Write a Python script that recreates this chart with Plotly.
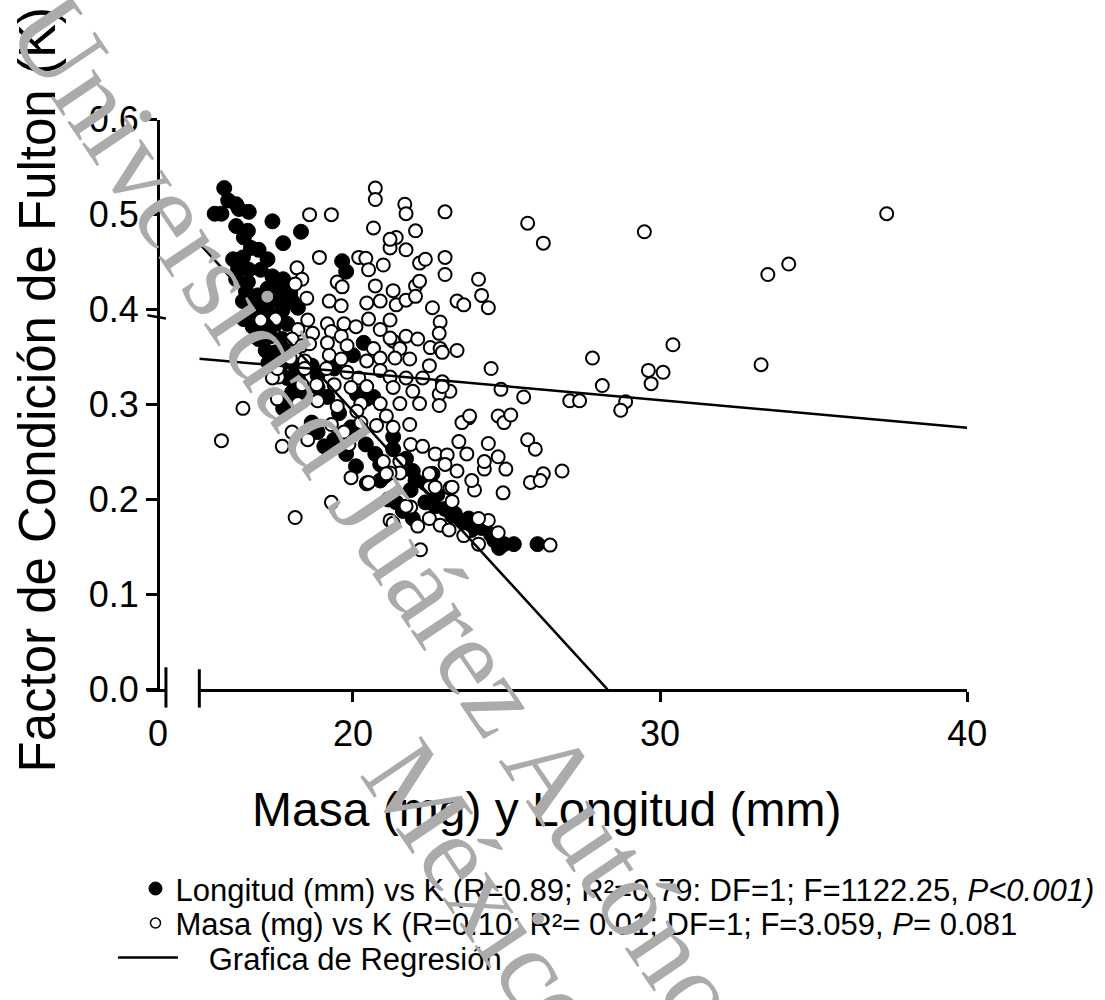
import plotly.graph_objects as go

W, H = 1105, 1000

# ---------------- data ----------------
# Longitud (mm) vs K  -- filled circles
long_x = [15.81,15.94,16.20,16.29,15.50,15.72,16.61,16.20,16.58,16.45,
          17.38,17.73,18.31,16.68,16.93,16.10,16.42,17.22,16.26,16.61,
          17.00,17.38,16.20,16.58,17.41,17.73,16.52,16.90,17.22,17.64,
          17.96,16.42,16.77,17.16,17.57,18.02,18.21,16.45,16.84,17.22,
          17.70,16.74,17.09,17.48,17.86,16.93,17.32,17.70,17.16,17.48,
          17.80,17.25,17.70,18.12,17.86,18.21,18.66,18.85,18.12,18.43,
          18.85,19.17,17.80,19.65,19.78,20.35,20.00,20.67,20.26,19.39,
          17.73,18.02,18.66,18.85,19.07,20.42,20.73,20.89,21.05,21.31,
          21.73,21.95,22.36,22.59,21.41,21.63,21.95,22.36,22.68,23.00,
          23.23,23.55,23.87,24.19,24.60,24.92,25.24,26.01,20.45,20.89,
          20.13,20.45,21.31,24.76,24.50,24.09,23.77,23.32,22.04,19.55,
          19.94,19.39,19.78,20.10,21.15,21.88,22.75]
long_y = [0.528,0.515,0.511,0.506,0.501,0.501,0.503,0.488,0.483,0.476,
          0.493,0.470,0.482,0.465,0.463,0.453,0.455,0.453,0.442,0.442,
          0.442,0.435,0.432,0.429,0.432,0.432,0.419,0.415,0.422,0.422,
          0.417,0.409,0.405,0.409,0.410,0.409,0.402,0.390,0.395,0.399,
          0.399,0.382,0.380,0.385,0.385,0.369,0.372,0.369,0.357,0.355,
          0.355,0.344,0.343,0.341,0.328,0.328,0.341,0.331,0.314,0.308,
          0.318,0.308,0.298,0.451,0.440,0.365,0.352,0.308,0.311,0.338,
          0.296,0.313,0.281,0.271,0.256,0.258,0.248,0.237,0.225,0.253,
          0.243,0.230,0.217,0.227,0.197,0.188,0.180,0.197,0.193,0.190,
          0.183,0.177,0.168,0.170,0.157,0.153,0.153,0.153,0.217,0.220,
          0.311,0.306,0.266,0.149,0.163,0.173,0.180,0.185,0.220,0.291,
          0.276,0.263,0.248,0.235,0.200,0.210,0.205]

# Masa (mg) vs K -- open circles
masa_x = [20.73,20.73,21.69,21.73,23.00,18.59,19.30,20.67,22.04,21.41,
          21.21,21.73,18.91,20.19,20.42,20.99,22.17,22.36,23.00,23.00,
          24.09,24.19,24.41,18.18,18.34,18.12,19.49,19.65,20.51,20.73,
          21.31,22.04,22.17,18.50,19.23,19.62,20.45,20.89,21.41,21.73,
          22.04,22.59,23.39,23.61,18.53,19.17,19.71,20.10,20.51,21.21,
          22.84,18.21,18.69,19.30,19.62,20.89,21.73,22.81,18.02,18.34,
          18.59,19.17,19.81,20.67,21.31,21.53,22.11,22.52,22.84,23.39,
          17.96,18.43,19.23,19.62,20.45,20.89,21.37,21.85,22.49,22.91,
          17.57,18.43,19.14,19.81,20.19,20.89,21.21,21.73,22.27,22.91,
          23.16,17.38,18.34,18.82,19.39,19.94,20.45,21.31,21.95,22.81,
          16.42,17.54,18.21,18.85,19.49,20.26,20.89,21.53,22.17,24.50,
          17.00,17.48,17.54,
          15.72,17.70,19.30,18.12,19.94,20.51,18.02,18.53,20.13,21.09,
          19.30,19.71,20.26,20.77,21.31,21.85,19.87,21.88,22.27,22.68,
          23.07,23.45,23.77,23.55,23.71,24.41,24.28,24.73,24.98,25.69,
          25.94,25.78,24.89,23.96,23.87,23.39,23.00,21.53,21.53,21.21,
          22.49,22.49,22.68,23.16,21.88,21.21,21.31,22.11,22.49,22.84,
          23.13,23.61,24.09,24.73,24.41,24.09,22.20,25.56,24.82,
          25.69,26.20,29.49,21.21,21.21,27.80,28.12,29.62,29.71,30.10,
          30.42,27.06,27.38,28.88,28.72,23.80,24.73,24.92,25.14,26.81,
          26.20,26.10,24.28,23.23,23.23,26.42,21.73,20.99,21.09,22.81,
          22.91,37.38,33.51,34.19,33.29]
masa_y = [0.528,0.516,0.511,0.501,0.503,0.500,0.500,0.486,0.483,0.476,
          0.465,0.463,0.455,0.455,0.454,0.447,0.449,0.453,0.455,0.437,
          0.432,0.415,0.402,0.444,0.432,0.427,0.429,0.424,0.442,0.425,
          0.420,0.425,0.430,0.412,0.409,0.404,0.407,0.409,0.405,0.410,
          0.414,0.402,0.409,0.405,0.389,0.385,0.385,0.382,0.390,0.389,
          0.387,0.379,0.375,0.377,0.372,0.379,0.372,0.375,0.369,0.362,
          0.364,0.365,0.362,0.359,0.367,0.359,0.369,0.360,0.359,0.357,
          0.349,0.346,0.352,0.348,0.346,0.349,0.349,0.348,0.341,0.355,
          0.329,0.338,0.338,0.334,0.328,0.336,0.329,0.328,0.328,0.324,
          0.314,0.328,0.321,0.321,0.321,0.318,0.319,0.318,0.314,0.311,
          0.296,0.306,0.301,0.304,0.298,0.301,0.301,0.301,0.301,0.338,
          0.389,0.390,0.338,
          0.262,0.256,0.197,0.181,0.223,0.218,0.271,0.263,0.293,0.288,
          0.279,0.271,0.281,0.278,0.276,0.279,0.258,0.258,0.256,0.248,
          0.247,0.261,0.286,0.281,0.248,0.259,0.232,0.245,0.232,0.263,
          0.253,0.218,0.207,0.210,0.220,0.230,0.237,0.240,0.228,0.228,
          0.227,0.213,0.213,0.212,0.192,0.178,0.175,0.172,0.180,0.173,
          0.168,0.162,0.153,0.165,0.178,0.180,0.147,0.308,0.316,
          0.491,0.470,0.482,0.474,0.370,0.349,0.320,0.336,0.322,0.334,
          0.363,0.304,0.304,0.303,0.294,0.288,0.288,0.281,0.289,0.230,
          0.227,0.220,0.240,0.213,0.198,0.152,0.193,0.240,0.227,0.299,
          0.319,0.501,0.437,0.448,0.342]

# regression fits: K = intercept + slope * x
long_fit = {"intercept": 1.000, "slope": -0.03535, "x_start": 15.0}
masa_fit = {"intercept": 0.392, "slope": -0.00291, "x_start": 15.0, "x_end": 40.0}
masa_fit_left = [-0.7, 0.5]   # short piece of the Masa line on the "0" stub of the broken axis

x_ticks_main = [20, 30, 40]
y_ticks = [0.0, 0.1, 0.2, 0.3, 0.4, 0.5, 0.6]

leg_long = "Longitud (mm) vs K (R=0.89; R²=0.79: DF=1; F=1122.25, <i>P&lt;0.001)</i>"
leg_masa = "Masa (mg) vs K (R=0.10; R²= 0.01; DF=1; F=3.059, <i>P</i>= 0.081"
leg_reg = "Grafica de Regresión"

FONT = "Liberation Sans, Arial, sans-serif"

def px_x(p):
    return p / W

def px_y(p):
    return 1 - p / H

fig = go.Figure()

x_zero = -long_fit["intercept"] / long_fit["slope"]
lx = [long_fit["x_start"], x_zero]
ly = [long_fit["intercept"] + long_fit["slope"] * v for v in lx]

mx = [masa_fit["x_start"], masa_fit["x_end"]]
my = [masa_fit["intercept"] + masa_fit["slope"] * v for v in mx]
mlx = masa_fit_left
mly = [masa_fit["intercept"] + masa_fit["slope"] * v for v in mlx]

fig.add_trace(go.Scatter(x=long_x, y=long_y, mode="markers", xaxis="x2", yaxis="y",
                         marker=dict(size=15, color="black", line=dict(color="black", width=1)),
                         showlegend=False, hoverinfo="skip"))
fig.add_trace(go.Scatter(x=masa_x, y=masa_y, mode="markers", xaxis="x2", yaxis="y",
                         marker=dict(size=13, color="white", line=dict(color="black", width=2)),
                         showlegend=False, hoverinfo="skip"))
fig.add_trace(go.Scatter(x=lx, y=ly, mode="lines", xaxis="x2", yaxis="y",
                         line=dict(color="black", width=2.5), showlegend=False, hoverinfo="skip"))
fig.add_trace(go.Scatter(x=mx, y=my, mode="lines", xaxis="x2", yaxis="y",
                         line=dict(color="black", width=2.5), showlegend=False, hoverinfo="skip"))
fig.add_trace(go.Scatter(x=mlx, y=mly, mode="lines", xaxis="x", yaxis="y",
                         line=dict(color="black", width=2.5), showlegend=False, hoverinfo="skip"))

# legend entries (one legend per row for exact placement)
fig.add_trace(go.Scatter(x=[None], y=[None], mode="markers", name=leg_long, legend="legend",
                         marker=dict(size=13, color="black", line=dict(color="black", width=1))))
fig.add_trace(go.Scatter(x=[None], y=[None], mode="markers", name=leg_masa, legend="legend2",
                         marker=dict(size=10, color="white", line=dict(color="black", width=1.5))))
fig.add_trace(go.Scatter(x=[None], y=[None], mode="lines", name="\u00a0\u00a0\u00a0" + leg_reg, legend="legend3",
                         line=dict(color="black", width=2.5)))

axis_common = dict(showgrid=False, zeroline=False, showline=True, linecolor="black", linewidth=3,
                   tickfont=dict(family=FONT, size=36, color="black"))

leg_font = dict(family=FONT, size=31, color="black")

fig.update_layout(
    width=W, height=H,
    margin=dict(l=0, r=0, t=0, b=0),
    paper_bgcolor="white", plot_bgcolor="rgba(0,0,0,0)",
    font=dict(family=FONT, color="black"),
    xaxis=dict(domain=[px_x(150), px_x(169)], range=[-11 / 16, 8 / 16], anchor="y",
               tickvals=[0], ticktext=["0"], ticks="outside", ticklen=10, tickwidth=3,
               tickcolor="rgba(0,0,0,0)", **axis_common),
    xaxis2=dict(domain=[px_x(203), px_x(985)], range=[15, 40], anchor="y",
                tickvals=x_ticks_main, ticks="outside", ticklen=10, tickwidth=3, tickcolor="black",
                **axis_common),
    yaxis=dict(domain=[px_y(698), px_y(104)], range=[0, 0.6], anchor="free", position=px_x(161),
               tickvals=y_ticks, tickformat=".1f", ticks="outside", ticklen=11, tickwidth=3,
               tickcolor="black", **axis_common),
    legend=dict(x=px_x(138), y=px_y(906), xanchor="left", yanchor="middle",
                font=leg_font, bgcolor="rgba(0,0,0,0)", itemwidth=30),
    legend2=dict(x=px_x(138), y=px_y(942), xanchor="left", yanchor="middle",
                 font=leg_font, bgcolor="rgba(0,0,0,0)", itemwidth=30),
    legend3=dict(x=px_x(115), y=px_y(978), xanchor="left", yanchor="middle",
                 font=leg_font, bgcolor="rgba(0,0,0,0)", itemwidth=60),
    showlegend=True,
)

# broken-axis marks
fig.add_shape(type="line", xref="x domain", yref="paper", x0=1, x1=1, y0=px_y(717), y1=px_y(675),
              line=dict(color="black", width=3))
fig.add_shape(type="line", xref="x2 domain", yref="paper", x0=0, x1=0, y0=px_y(717), y1=px_y(677),
              line=dict(color="black", width=3))

# axis titles
fig.add_annotation(text="Masa (mg) y Longitud (mm)", x=px_x(557), y=px_y(823), xref="paper", yref="paper",
                   showarrow=False, font=dict(family=FONT, size=48, color="black"),
                   xanchor="center", yanchor="middle")
fig.add_annotation(text="Factor de Condición de Fulton (K)", x=px_x(38), y=px_y(386), xref="paper", yref="paper",
                   showarrow=False, textangle=-90, font=dict(family=FONT, size=51, color="black"),
                   xanchor="center", yanchor="middle")

# watermark (grey diagonal text drawn over the chart)
WM_FONT = dict(family="Liberation Serif, serif", size=112, color="#ababab")
fig.add_annotation(text="Universidad Juárez Autónoma de Tabasco", x=px_x(572), y=px_y(800),
                   xref="paper", yref="paper", showarrow=False, textangle=56, font=WM_FONT,
                   xanchor="center", yanchor="middle")
fig.add_annotation(text="México", x=px_x(495), y=px_y(912),
                   xref="paper", yref="paper", showarrow=False, textangle=56, font=WM_FONT,
                   xanchor="center", yanchor="middle")

fig.write_html("out.html",
               post_script="document.body.style.margin='0';document.body.style.overflow='hidden';")
